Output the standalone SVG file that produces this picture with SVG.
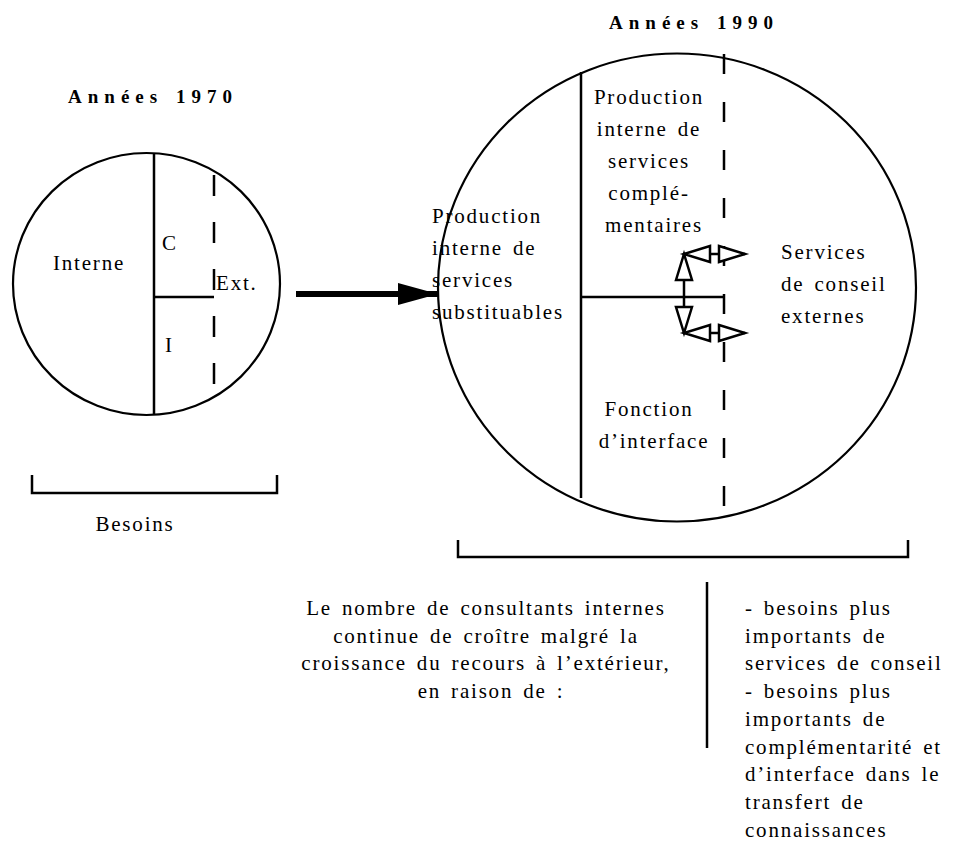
<svg xmlns="http://www.w3.org/2000/svg" width="961" height="863" viewBox="0 0 961 863">
<style>
text{font-family:"Liberation Serif","Times New Roman",serif;font-size:21px;letter-spacing:1.8px;word-spacing:3px;fill:#000}
.title{font-weight:bold;font-size:19px;letter-spacing:6px;word-spacing:2px}
.mid{text-anchor:middle}
.ln{stroke:#000;stroke-width:2.5;fill:none}
.circ{stroke:#000;stroke-width:2.2;fill:#fff}
.dash{stroke:#000;stroke-width:2.5;stroke-dasharray:20 28;fill:none}
.dbl{stroke:#000;stroke-width:2.5;fill:none;marker-start:url(#hollow);marker-end:url(#hollow)}
</style>
<defs>
<marker id="hollow" viewBox="0 0 26 16" refX="26" refY="8" markerWidth="26" markerHeight="16" markerUnits="userSpaceOnUse" orient="auto-start-reverse" overflow="visible">
<path d="M0,0 L26,8 L0,16 Z" fill="#fff" stroke="#000" stroke-width="2.5" stroke-linejoin="miter"/>
</marker>
<marker id="solid" viewBox="0 0 40 22" refX="40" refY="11" markerWidth="40" markerHeight="22" markerUnits="userSpaceOnUse" orient="auto">
<path d="M0,0 L40,11 L0,22 Z" fill="#000"/>
</marker>
</defs>

<g id="node-1970">
<text class="title mid" x="153" y="103">Années 1970</text>
<ellipse class="circ" cx="146.5" cy="284" rx="133.5" ry="131"/>
<line class="ln" x1="154" y1="153" x2="154" y2="415"/>
<line class="ln" x1="154" y1="297" x2="214" y2="297"/>
<line class="ln" x1="214" y1="175" x2="214" y2="387" style="stroke-dasharray:21 26"/>
<text x="53" y="270">Interne</text>
<text x="162" y="250">C</text>
<text x="216" y="290">Ext.</text>
<text x="165" y="352">I</text>
</g>

<g id="bracket-1970">
<path class="ln" d="M32,475 V493 H277 V475"/>
<text class="mid" x="135" y="531">Besoins</text>
</g>

<g id="node-1990">
<text class="title mid" x="694" y="29">Années 1990</text>
<ellipse class="circ" cx="677" cy="287.5" rx="239" ry="234"/>
<line class="ln" x1="581" y1="72" x2="581" y2="498"/>
<line class="ln" x1="581" y1="297" x2="724" y2="297"/>
<line class="dash" x1="724" y1="54" x2="724" y2="512"/>
<text class="mid">
<tspan x="654" y="104">Production</tspan>
<tspan x="654" y="136">interne de</tspan>
<tspan x="654" y="168">services</tspan>
<tspan x="654" y="200">complé-</tspan>
<tspan x="654" y="232">mentaires</tspan>
</text>
<text>
<tspan x="432" y="223">Production</tspan>
<tspan x="432" y="255">interne de</tspan>
<tspan x="432" y="287">services</tspan>
<tspan x="432" y="319">substituables</tspan>
</text>
<text>
<tspan x="781" y="259">Services</tspan>
<tspan x="781" y="291">de conseil</tspan>
<tspan x="781" y="323">externes</tspan>
</text>
<text class="mid">
<tspan x="654" y="416">Fonction</tspan>
<tspan x="654" y="448">d’interface</tspan>
</text>
</g>

<g id="bracket-1990">
<path class="ln" d="M458,540 V557 H908 V540"/>
</g>

<g id="connectors">
<line x1="296" y1="294" x2="438" y2="294" stroke="#000" stroke-width="6" marker-end="url(#solid)"/>
<line class="dbl" x1="684" y1="254" x2="684" y2="333"/>
<line class="dbl" x1="684" y1="254" x2="745" y2="254"/>
<line class="dbl" x1="684" y1="333" x2="745" y2="333"/>
</g>

<g id="explanation">
<text class="mid">
<tspan x="491" y="615">Le nombre de consultants internes</tspan>
<tspan x="491" y="643">continue de croître malgré la</tspan>
<tspan x="491" y="670">croissance du recours à l’extérieur,</tspan>
<tspan x="491" y="698">en raison de :</tspan>
</text>
<line class="ln" x1="707" y1="582" x2="707" y2="748"/>
<text>
<tspan x="745" y="615">- besoins plus</tspan>
<tspan x="745" y="643">importants de</tspan>
<tspan x="745" y="670">services de conseil</tspan>
<tspan x="745" y="698">- besoins plus</tspan>
<tspan x="745" y="726">importants de</tspan>
<tspan x="745" y="754">complémentarité et</tspan>
<tspan x="745" y="781">d’interface dans le</tspan>
<tspan x="745" y="809">transfert de</tspan>
<tspan x="745" y="837">connaissances</tspan>
</text>
</g>
</svg>
